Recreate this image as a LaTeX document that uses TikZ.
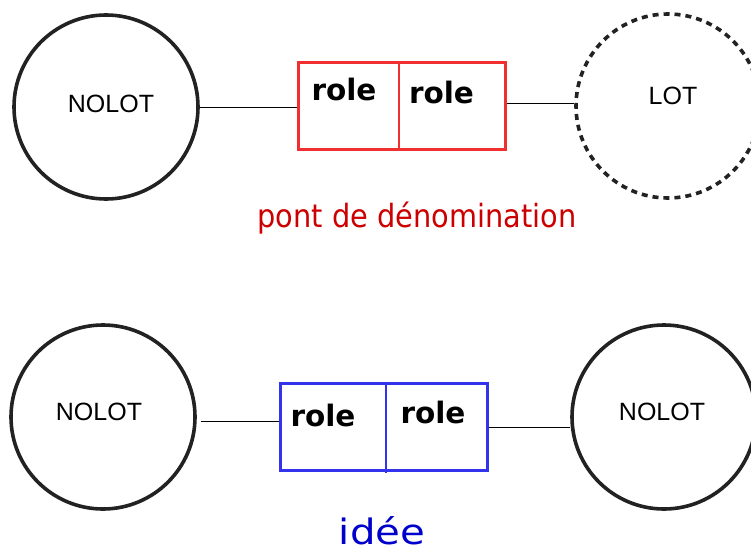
\documentclass[tikz,border=0pt]{standalone}
\usepackage{fontspec}
\setmainfont{DejaVu Sans}
\newfontfamily\circfont{Liberation Sans}
\newfontfamily\condfont{DejaVu Sans Condensed}
\newfontfamily\ideefont[FakeStretch=1.15]{DejaVu Sans}
\definecolor{circline}{HTML}{222222}
\definecolor{redbox}{HTML}{F03030}
\definecolor{redtxt}{HTML}{CC0000}
\definecolor{bluebox}{HTML}{3333EE}
\definecolor{bluetxt}{HTML}{0000CC}
\begin{document}
\begin{tikzpicture}[x=1pt,y=-1pt,
  ent/.style={circle,draw=circline,line width=3.6pt,minimum size=184pt,inner sep=0pt},
  enttext/.style={font=\circfont\fontsize{25}{25}\selectfont},
  rolebox/.style={draw,line width=3pt,minimum width=207pt,minimum height=87pt,inner sep=0pt},
  roletext/.style={font=\bfseries\fontsize{29.5}{29.5}\selectfont,anchor=base,inner sep=0pt},
  conn/.style={line width=1pt,black}]
\useasboundingbox (0,0) rectangle (751,551);
\clip (0,0) rectangle (751,551);
% top row
\node[ent] (c1) at (106,107) {};
\node[enttext] (t1) at (111,104) {NOLOT};
\node[ent,dash pattern=on 6pt off 5pt] (c2) at (668,106) {};
\node[enttext] (t2) at (673,96) {LOT};
\node[rolebox,draw=redbox] (rb) at (401.5,105.5) {};
\draw[redbox,line width=1.5pt] (399,62) coordinate (rd1) -- (399,149) coordinate (rd2);
\node[roletext] (r1) at (344,100) {role};
\node[roletext] (r2) at (441.5,103) {role};
\draw[conn] (c1.east |- 0,107) -- (rb.west |- 0,107);
\draw[conn] (rb.east |- 0,103) -- (c2.west |- 0,103);
\node[font=\condfont\fontsize{32}{32}\selectfont,text=redtxt,anchor=base] (lab1) at (417,227) {pont de dénomination};
% bottom row
\node[ent] (c3) at (103,417) {};
\node[enttext] (t3) at (99,412) {NOLOT};
\node[ent] (c4) at (664,417) {};
\node[enttext] (t4) at (662,412) {NOLOT};
\node[rolebox,draw=bluebox] (bb) at (383.5,426.5) {};
\draw[bluebox,line width=1.5pt] (386,383) coordinate (bd1) -- (386,473) coordinate (bd2);
\node[roletext] (r3) at (323,426) {role};
\node[roletext] (r4) at (433,423) {role};
\coordinate (l3s) at (201,421);
\draw[conn] (l3s) -- (bb.west |- l3s);
\draw[conn] (bb.east |- 0,427) -- (c4.west |- 0,427);
\node[font=\ideefont\fontsize{35}{35}\selectfont,text=bluetxt,anchor=base,inner sep=0pt] (lab2) at (382,544) {idée};
\end{tikzpicture}
\end{document}
